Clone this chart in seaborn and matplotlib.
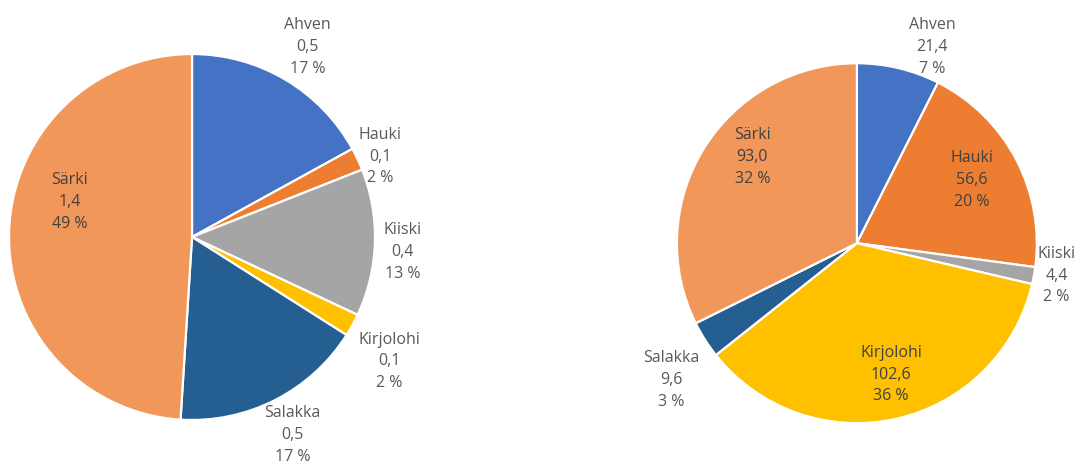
"""Two pie charts of fish catch by species (Finnish labels)."""

import matplotlib
matplotlib.use("Agg")
import matplotlib.pyplot as plt
import seaborn as sns

# data
species = ["Ahven", "Hauki", "Kiiski", "Kirjolohi", "Salakka", "Särki"]

left_values = ["0,5", "0,1", "0,4", "0,1", "0,5", "1,4"]
left_pct = [17, 2, 13, 2, 17, 49]

right_values = [21.4, 56.6, 4.4, 102.6, 9.6, 93.0]
right_pct = [7, 20, 2, 36, 3, 32]

colors = ["#4472C4", "#ED7D31", "#A5A5A5", "#FFC000", "#255E91", "#F1975A"]

# label placement (in pie radius units) and colour
left_label_pos = [(0.63, 1.04), (1.03, 0.44), (1.15, -0.08),
                  (1.08, -0.68), (0.55, -1.08), (-0.67, 0.19)]
right_label_pos = [(0.42, 1.09), (0.64, 0.35), (1.11, -0.18),
                   (0.19, -0.73), (-1.03, -0.76), (-0.58, 0.48)]
left_inside = [False, False, False, False, False, True]
right_inside = [False, True, False, True, False, True]

sns.set_theme(style="white")
plt.rcParams["font.family"] = ["Open Sans", "DejaVu Sans"]

fig = plt.figure(figsize=(10.83, 4.65), dpi=100)
palette = sns.color_palette(colors)


def draw_pie(ax, sizes, value_txt, pct, label_pos, inside):
    ax.pie(
        sizes,
        colors=palette,
        startangle=90,
        counterclock=False,
        wedgeprops={"edgecolor": "white", "linewidth": 1.6},
    )
    ax.set_xlim(-1, 1)
    ax.set_ylim(-1, 1)
    ax.set_aspect("equal")
    ax.axis("off")
    for name, v, p, (x, y), ins in zip(species, value_txt, pct, label_pos, inside):
        ax.text(
            x, y, f"{name}\n{v}\n{p} %",
            ha="center", va="center",
            fontsize=11.5, linespacing=1.49,
            color="#404040" if ins else "#595959",
            clip_on=False,
        )


ax1 = fig.add_axes([0.0083, 0.0968, 0.338, 0.787])
draw_pie(ax1, left_pct, left_values, left_pct, left_label_pos, left_inside)

ax2 = fig.add_axes([0.625, 0.090, 0.3324, 0.774])
right_txt = [f"{v:.1f}".replace(".", ",") for v in right_values]
draw_pie(ax2, right_values, right_txt, right_pct, right_label_pos, right_inside)

fig.savefig("out.png", dpi=100, facecolor="white")
